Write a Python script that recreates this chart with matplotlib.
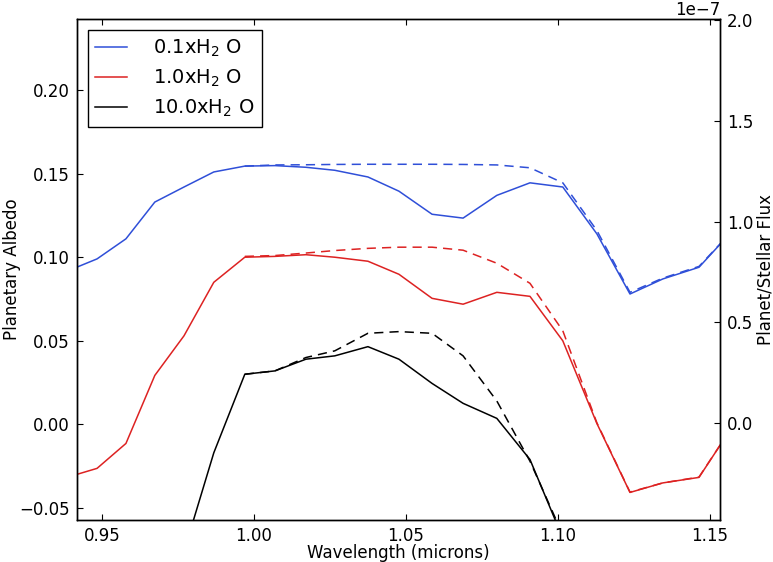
import numpy as np
import matplotlib
matplotlib.use('Agg')
import matplotlib.pyplot as plt

# wavelength grid (microns)
wave = [0.9390, 0.9484, 0.9579, 0.9674, 0.9770, 0.9868, 0.9970, 1.0069, 1.0171,
        1.0266, 1.0375, 1.0477, 1.0586, 1.0688, 1.0799, 1.0908, 1.1016, 1.1128,
        1.1237, 1.1345, 1.1464, 1.1580]

# solid lines: planetary albedo
alb_01 = [0.092, 0.099, 0.111, 0.133, 0.142, 0.151, 0.1545, 0.1548, 0.1538, 0.152,
          0.148, 0.1395, 0.1257, 0.1234, 0.137, 0.1445, 0.142, 0.114, 0.078, 0.087,
          0.094, 0.117]
alb_1 = [-0.0314, -0.0263, -0.0114, 0.0293, 0.053, 0.085, 0.100, 0.1005, 0.1015,
         0.100, 0.0976, 0.0898, 0.0754, 0.0719, 0.079, 0.0766, 0.050, 0.0006, -0.0407,
         -0.035, -0.0317, 0.0004]
wave_10 = wave[4:17]
alb_10 = [-0.076, -0.017, 0.030, 0.032, 0.039, 0.041, 0.0465, 0.039, 0.0245, 0.0126,
          0.0036, -0.021, -0.068]

# dashed lines
wave_d = wave[6:]
dash_01 = [0.1545, 0.1552, 0.1553, 0.1555, 0.1556, 0.1556, 0.1556, 0.1555, 0.1552,
           0.1535, 0.1445, 0.116, 0.079, 0.0875, 0.0945, 0.117]
dash_1 = [0.1005, 0.1010, 0.1025, 0.1040, 0.1053, 0.1060, 0.1060, 0.1042, 0.0964,
          0.0844, 0.056, 0.001, -0.0405, -0.035, -0.0315, 0.0004]
wave_d10 = wave[6:17]
dash_10 = [0.030, 0.032, 0.040, 0.044, 0.0545, 0.0555, 0.0545, 0.041, 0.014, -0.022,
           -0.066]

labels = [r'0.1xH$_2$ O', r'1.0xH$_2$ O', r'10.0xH$_2$ O']
colors = ['#2f4fd8', '#dd2222', 'black']

xticks = [0.95, 1.00, 1.05, 1.10, 1.15]
yticks_left = [-0.05, 0.00, 0.05, 0.10, 0.15, 0.20]
yticks_right = [0.0, 0.5e-7, 1.0e-7, 1.5e-7, 2.0e-7]

plt.rcParams['font.size'] = 12
plt.rcParams['font.family'] = 'DejaVu Sans'
plt.rcParams['mathtext.default'] = 'regular'

fig = plt.figure(figsize=(7.73, 5.62), dpi=100)
ax1 = fig.add_axes([0.0996, 0.0747, 0.8318, 0.8915])

ax1.plot(wave, alb_01, color=colors[0], lw=1.1, label=labels[0])
ax1.plot(wave, alb_1, color=colors[1], lw=1.1, label=labels[1])
ax1.plot(wave_10, alb_10, color=colors[2], lw=1.1, label=labels[2])
ax1.plot(wave_d, dash_01, color=colors[0], lw=1.1, dashes=(6, 4))
ax1.plot(wave_d, dash_1, color=colors[1], lw=1.1, dashes=(6, 4))
ax1.plot(wave_d10, dash_10, color=colors[2], lw=1.1, dashes=(6, 4))

ax1.set_xlim(0.9418, 1.1533)
ax1.set_ylim(-0.0572, 0.2425)
ax1.set_xticks(xticks)
ax1.set_xticklabels(['%.2f' % v for v in xticks])
ax1.set_yticks(yticks_left)
ax1.set_yticklabels(['%.2f' % v if v >= 0 else '\u2212%.2f' % -v for v in yticks_left])
ax1.set_xlabel('Wavelength (microns)', labelpad=-1)
ax1.set_ylabel('Planetary Albedo', labelpad=-1)

ax2 = ax1.twinx()
ax2.set_ylim(-0.48e-7, 2.005e-7)
ax2.set_yticks(yticks_right)
ax2.set_ylabel('Planet/Stellar Flux', labelpad=2)

ax1.tick_params(direction='in', length=4.5, width=0.8, top=True, right=False, pad=5)
ax2.tick_params(direction='in', length=4.5, width=0.8, pad=5)
for ax in (ax1, ax2):
    for s in ax.spines.values():
        s.set_linewidth(1.0)

leg = ax1.legend(loc='upper left', fancybox=False, framealpha=1, edgecolor='black',
                 fontsize=14, handlelength=1.6, handletextpad=1.35, labelspacing=0.45,
                 borderaxespad=0.55, borderpad=0.4)
leg.get_frame().set_linewidth(1.0)

fig.savefig('out.png', dpi=100)
